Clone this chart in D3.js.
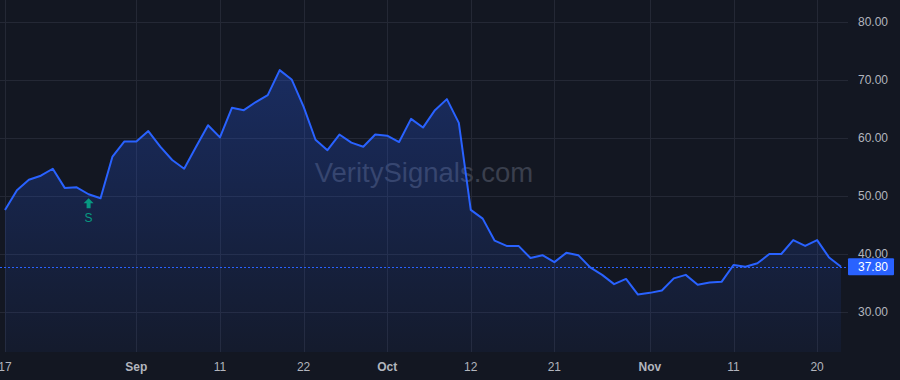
<!DOCTYPE html>
<html>
<head>
<meta charset="utf-8">
<script src="https://cdn.jsdelivr.net/npm/d3@7"></script>
<style>
  html, body { margin: 0; padding: 0; background: #131722; }
  svg { display: block; font-family: "Liberation Sans", Arial, sans-serif; }
</style>
</head>
<body>
<svg id="main" width="900" height="380"></svg>
<script>
// trading days, Aug 17 - Nov 24 2020
const dates = [
  "2020-08-17", "2020-08-18", "2020-08-19", "2020-08-20", "2020-08-21", "2020-08-24", "2020-08-25", "2020-08-26", "2020-08-27", "2020-08-28",
  "2020-08-31", "2020-09-01", "2020-09-02", "2020-09-03", "2020-09-04", "2020-09-08", "2020-09-09", "2020-09-10", "2020-09-11", "2020-09-14",
  "2020-09-15", "2020-09-16", "2020-09-17", "2020-09-18", "2020-09-21", "2020-09-22", "2020-09-23", "2020-09-24", "2020-09-25", "2020-09-28",
  "2020-09-29", "2020-09-30", "2020-10-01", "2020-10-02", "2020-10-05", "2020-10-06", "2020-10-07", "2020-10-08", "2020-10-09", "2020-10-12",
  "2020-10-13", "2020-10-14", "2020-10-15", "2020-10-16", "2020-10-19", "2020-10-20", "2020-10-21", "2020-10-22", "2020-10-23", "2020-10-26",
  "2020-10-27", "2020-10-28", "2020-10-29", "2020-10-30", "2020-11-02", "2020-11-03", "2020-11-04", "2020-11-05", "2020-11-06", "2020-11-09",
  "2020-11-10", "2020-11-11", "2020-11-12", "2020-11-13", "2020-11-16", "2020-11-17", "2020-11-18", "2020-11-19", "2020-11-20", "2020-11-23",
  "2020-11-24"
];

const closes = [
  47.6, 51.0, 52.8, 53.5, 54.7, 51.4, 51.5, 50.3, 49.6, 56.8,
  59.4, 59.4, 61.2, 58.5, 56.2, 54.7, 58.5, 62.2, 60.1, 65.2,
  64.8, 66.2, 67.4, 71.7, 70.1, 65.4, 59.7, 57.9, 60.6, 59.2,
  58.5, 60.6, 60.4, 59.3, 63.3, 61.8, 64.8, 66.7, 62.6, 47.6,
  46.1, 42.3, 41.4, 41.4, 39.3, 39.8, 38.6, 40.2, 39.8, 37.7,
  36.4, 34.8, 35.7, 33.0, 33.3, 33.7, 35.8, 36.4, 34.7, 35.1,
  35.2, 38.1, 37.8, 38.4, 40.0, 40.0, 42.4, 41.4, 42.4, 39.4,
  37.8
];

const tickDates = ["2020-08-17", "2020-09-01", "2020-09-11", "2020-09-22", "2020-10-01", "2020-10-12", "2020-10-21", "2020-11-02", "2020-11-11", "2020-11-20"];
const tickLabels = ["17", "Sep", "11", "22", "Oct", "12", "21", "Nov", "11", "20"];
const monthTicks = ["Sep", "Oct", "Nov"];

const priceTicks = [30, 40, 50, 60, 70, 80];
const lastPrice = 37.80;

const signalDates = ["2020-08-26"];
const signalLabels = ["S"];

const W = 900, H = 380;
const plotRight = 848, plotBottom = 352;

const svg = d3.select("#main");

const x = d3.scalePoint().domain(dates).range([5, 841]);
const y = d3.scaleLinear().domain([30, 80]).range([312, 22]);

const defs = svg.append("defs");
const grad = defs.append("linearGradient")
  .attr("id", "fill")
  .attr("gradientUnits", "userSpaceOnUse")
  .attr("x1", 0).attr("x2", 0)
  .attr("y1", y(d3.max(closes))).attr("y2", plotBottom);
grad.append("stop").attr("offset", 0).attr("stop-color", "#2962ff").attr("stop-opacity", 0.28);
grad.append("stop").attr("offset", 1).attr("stop-color", "#2962ff").attr("stop-opacity", 0.05);

svg.append("rect").attr("width", W).attr("height", H).attr("fill", "#131722");

// grid
const grid = svg.append("g").attr("stroke", "#242835").attr("stroke-width", 1);
grid.selectAll("line.h")
  .data(priceTicks)
  .enter()
  .append("line")
  .attr("x1", 0).attr("x2", plotRight)
  .attr("y1", d => Math.round(y(d)) + 0.5)
  .attr("y2", d => Math.round(y(d)) + 0.5);
grid.selectAll("line.v")
  .data(tickDates)
  .enter()
  .append("line")
  .attr("y1", 0).attr("y2", plotBottom)
  .attr("x1", d => Math.round(x(d)) + 0.5)
  .attr("x2", d => Math.round(x(d)) + 0.5);

// watermark
svg.append("text")
  .attr("x", 424).attr("y", 182)
  .attr("text-anchor", "middle")
  .attr("font-size", 27.5)
  .attr("fill", "#3a3f4d")
  .text("VeritySignals.com");

const series = dates.map((d, i) => [d, closes[i]]);

svg.append("path")
  .datum(series)
  .attr("fill", "url(#fill)")
  .attr("d", d3.area().x(d => x(d[0])).y0(plotBottom).y1(d => y(d[1])));

// last price line
svg.append("line")
  .attr("x1", 0).attr("x2", plotRight)
  .attr("y1", Math.round(y(lastPrice)) + 0.5)
  .attr("y2", Math.round(y(lastPrice)) + 0.5)
  .attr("stroke", "#2962ff")
  .attr("stroke-width", 1)
  .attr("stroke-dasharray", "2,2");

svg.append("path")
  .datum(series)
  .attr("fill", "none")
  .attr("stroke", "#2962ff")
  .attr("stroke-width", 2)
  .attr("stroke-linejoin", "round")
  .attr("d", d3.line().x(d => x(d[0])).y(d => y(d[1])));

// signal markers
const sig = svg.selectAll("g.sig")
  .data(signalDates)
  .enter()
  .append("g")
  .attr("transform", d => `translate(${x(d)},${y(closes[dates.indexOf(d)]) + 8})`);
sig.append("path")
  .attr("d", "M0,-4 L5,1 L2,1 L2,6 L-2,6 L-2,1 L-5,1 Z")
  .attr("fill", "#089981");
sig.append("text")
  .attr("y", 20)
  .attr("text-anchor", "middle")
  .attr("font-size", 12)
  .attr("fill", "#089981")
  .text((d, i) => signalLabels[i]);

// price axis
svg.selectAll("text.price")
  .data(priceTicks)
  .enter()
  .append("text")
  .attr("x", 858)
  .attr("y", d => y(d))
  .attr("dy", "0.35em")
  .attr("font-size", 12)
  .attr("fill", "#b2b5be")
  .text(d => d.toFixed(2));

const ly = y(lastPrice);
svg.append("rect")
  .attr("x", 848).attr("y", ly - 8.5)
  .attr("width", 46).attr("height", 17)
  .attr("rx", 1)
  .attr("fill", "#2962ff");
svg.append("text")
  .attr("x", 858).attr("y", ly)
  .attr("dy", "0.35em")
  .attr("font-size", 12)
  .attr("fill", "#ffffff")
  .text(lastPrice.toFixed(2));

// time axis
svg.selectAll("text.time")
  .data(tickDates)
  .enter()
  .append("text")
  .attr("x", d => x(d))
  .attr("y", 367)
  .attr("dy", "0.35em")
  .attr("text-anchor", "middle")
  .attr("font-size", 12)
  .attr("font-weight", (d, i) => monthTicks.includes(tickLabels[i]) ? "bold" : "normal")
  .attr("fill", "#b2b5be")
  .text((d, i) => tickLabels[i]);
</script>
</body>
</html>
